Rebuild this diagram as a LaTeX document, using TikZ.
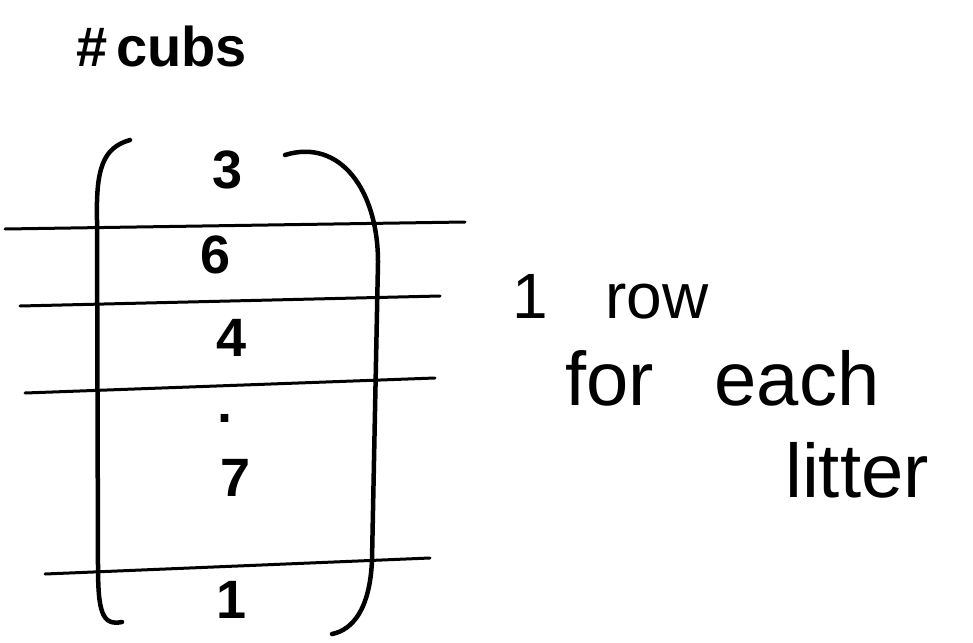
\documentclass[tikz,border=0pt]{standalone}
\usepackage{fontspec}
\setmainfont{Liberation Sans}
\begin{document}
\begin{tikzpicture}[x=1pt,y=-1pt,
  ink/.style={line width=4.5pt,line cap=round,line join=round,black},
  thin/.style={line width=3pt,line cap=round,black},
  num/.style={font=\fontsize{54}{54}\selectfont\bfseries,inner sep=0pt},
  note/.style={font=\fontsize{64}{64}\selectfont,inner sep=0pt,anchor=base west}]
\useasboundingbox (0,0) rectangle (973,642);
% title
\node[inner sep=0pt,font=\fontsize{56}{56}\selectfont\bfseries] (title) at (162,46) {\#\hspace{0.15em}cubs};
% bracket
\draw[ink] (130,140) .. controls (102,148) and (96,170) .. (97,220) -- (98,565) .. controls (98,612) and (102,626) .. (122,622);
% right parenthesis
\draw[ink] (285,155) .. controls (340,138) and (378,190) .. (378,262) -- (372,560) .. controls (370,610) and (352,630) .. (332,634);
% horizontal rules
\draw[thin] (5,229) -- (465,222);
\draw[thin] (20,306) -- (440,296);
\draw[thin] (25,393) -- (435,378);
\draw[thin] (45,574) -- (430,558);
% numbers
\node[num] (n3) at (228,170) {3};
\node[num] (n6) at (216,255) {6};
\node[num] (n4) at (232,338) {4};
\node[num] (ndot) at (225,418) {.};
\node[num] (n7) at (236,478) {7};
\node[num] (n1) at (232,600) {1};
% note
\node[note] (l1) at (512,318) {1\hspace{0.9em}row};
\node[note,font=\fontsize{76}{76}\selectfont] (l2) at (565,405) {for\hspace{0.8em}each};
\node[note,font=\fontsize{76}{76}\selectfont] (l3) at (785,497) {litter};
\end{tikzpicture}
\end{document}
